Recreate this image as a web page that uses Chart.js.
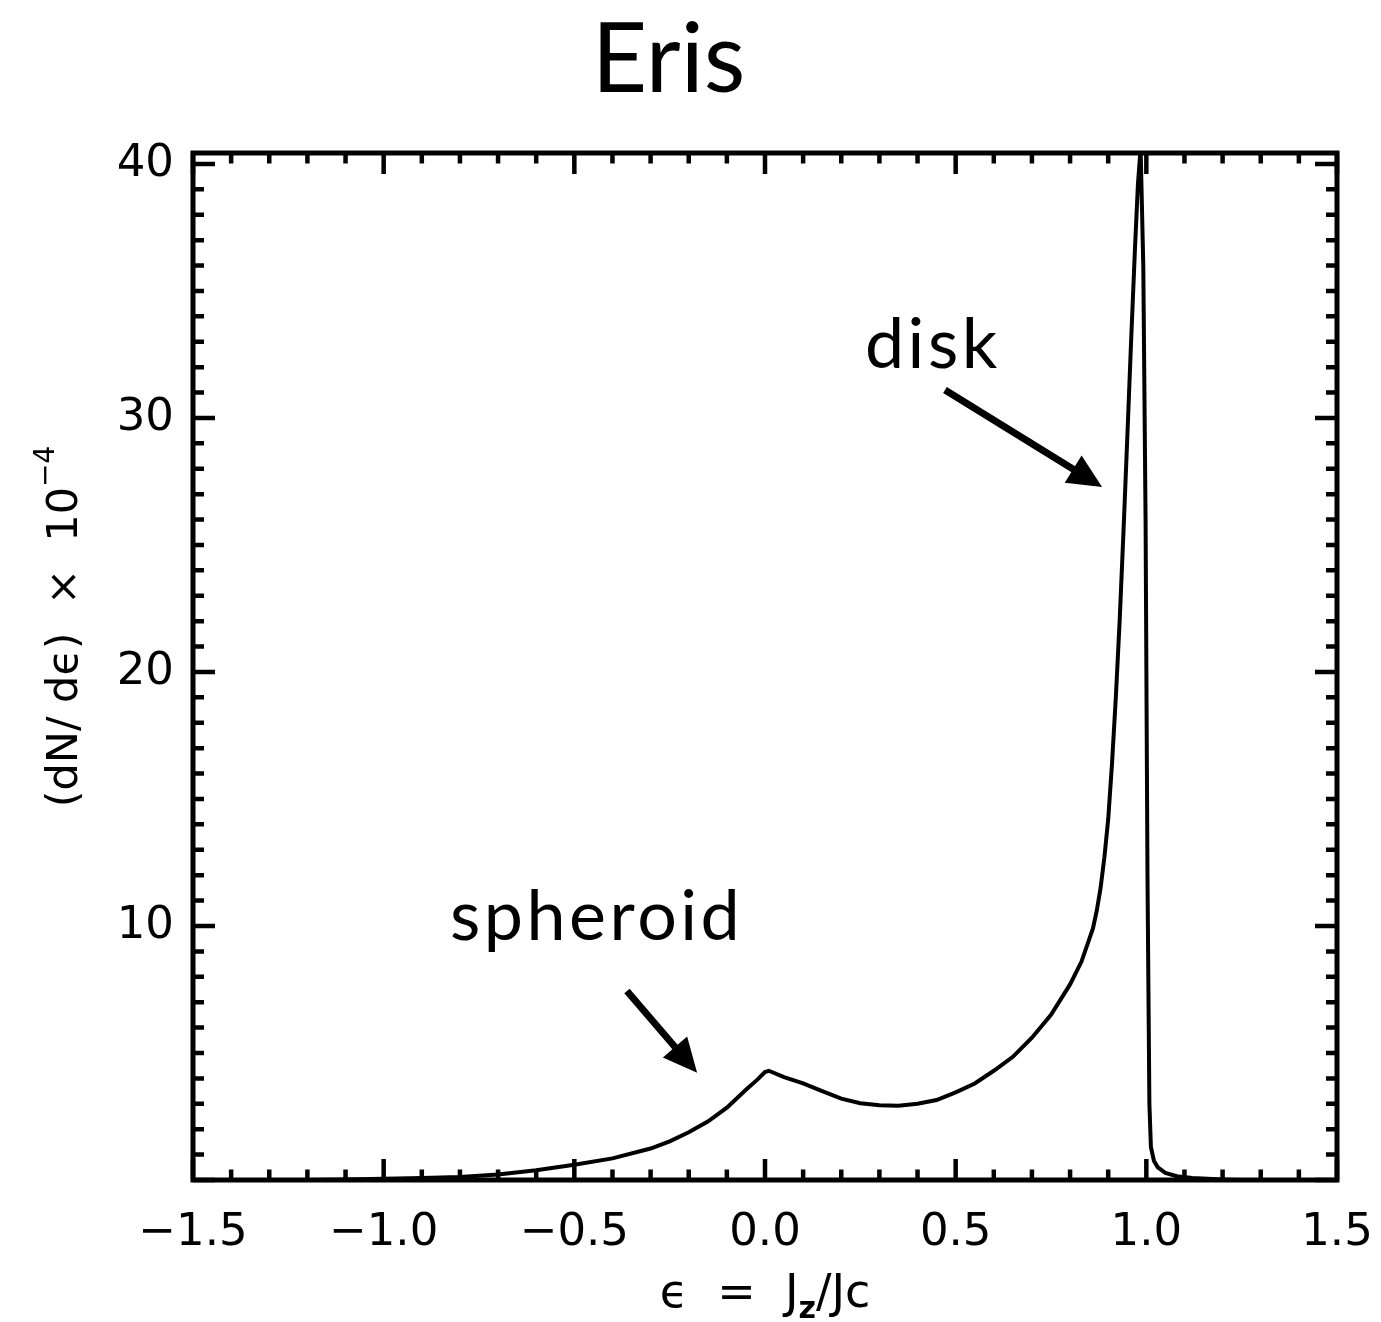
<!DOCTYPE html>
<html>
<head>
  <meta charset="UTF-8">
  <title>Eris</title>
  <script src="https://cdn.jsdelivr.net/npm/chart.js"></script>
  <style>
    html, body { margin: 0; padding: 0; background: #fff; }
    canvas { display: block; }
  </style>
</head>
<body>
  <canvas id="erisChart" width="1381" height="1322"></canvas>

  <script>
    // epsilon = Jz/Jc  vs  (dN/d eps) x 10^-4
    const epsValues = [
      -1.20, -1.10, -1.00, -0.90, -0.80, -0.70, -0.60, -0.50, -0.40, -0.30,
      -0.25, -0.20, -0.15, -0.10, -0.05, -0.02, 0.00, 0.01, 0.05, 0.10,
      0.15, 0.20, 0.25, 0.30, 0.35, 0.40, 0.45, 0.50, 0.55, 0.60,
      0.65, 0.70, 0.75, 0.80, 0.83, 0.86, 0.87, 0.88, 0.89, 0.90,
      0.91, 0.92, 0.93, 0.94, 0.95, 0.96, 0.97, 0.978, 0.985, 0.992,
      0.998, 1.003, 1.008, 1.012, 1.02, 1.03, 1.05, 1.08, 1.12, 1.20,
      1.25
    ];
    const dndeValues = [
      0.00, 0.02, 0.05, 0.08, 0.12, 0.22, 0.38, 0.60, 0.85, 1.24,
      1.52, 1.88, 2.30, 2.85, 3.55, 3.95, 4.25, 4.30, 4.05, 3.80,
      3.50, 3.20, 3.02, 2.94, 2.92, 3.00, 3.15, 3.45, 3.80, 4.30,
      4.85, 5.60, 6.50, 7.70, 8.60, 9.90, 10.6, 11.5, 12.7, 14.2,
      16.4, 19.0, 22.0, 25.5, 29.2, 33.0, 36.6, 39.2, 40.6, 36.0,
      26.0, 12.0, 3.0, 1.3, 0.75, 0.50, 0.28, 0.15, 0.08, 0.02,
      0.00
    ];
    const xTickValues = [-1.5, -1.0, -0.5, 0.0, 0.5, 1.0, 1.5];
    const yTickValues = [10, 20, 30, 40];

    const points = epsValues.map((e, i) => ({ x: e, y: dndeValues[i] }));

    const axisFont = '"DejaVu Sans", sans-serif';

    // frame + inward ticks on all four sides
    const frameTicks = {
      id: 'frameTicks',
      afterDatasetsDraw(chart) {
        const { ctx, chartArea: a, scales: { x, y } } = chart;
        ctx.save();
        ctx.strokeStyle = '#000';
        ctx.lineWidth = 4.5;
        ctx.beginPath();
        for (let i = 0; i <= 30; i++) {
          const px = x.getPixelForValue(-1.5 + i * 0.1);
          const len = i % 5 === 0 ? 21 : 10.5;
          ctx.moveTo(px, a.bottom); ctx.lineTo(px, a.bottom - len);
          ctx.moveTo(px, a.top); ctx.lineTo(px, a.top + len);
        }
        for (let v = 0; v <= 40; v++) {
          const py = y.getPixelForValue(v);
          const len = v % 10 === 0 ? 22 : 11;
          ctx.moveTo(a.left, py); ctx.lineTo(a.left + len, py);
          ctx.moveTo(a.right, py); ctx.lineTo(a.right - len, py);
        }
        ctx.stroke();
        ctx.lineWidth = 5;
        ctx.strokeRect(a.left, a.top, a.right - a.left, a.bottom - a.top);
        ctx.restore();
      }
    };

    // axis titles with sub/superscripts
    const axisTitles = {
      id: 'axisTitles',
      afterDraw(chart) {
        const { ctx, chartArea: a } = chart;
        ctx.save();
        ctx.fillStyle = '#000';
        ctx.textBaseline = 'alphabetic';
        ctx.textAlign = 'left';

        // x title: ϵ = Jz/Jc
        const xs = [
          { t: 'ϵ  =  J', f: '46px ' + axisFont, dy: 0 },
          { t: 'z', f: 'bold 30px ' + axisFont, dy: 11 },
          { t: '/Jc', f: '46px ' + axisFont, dy: 0 }
        ];
        let w = 0;
        xs.forEach(s => { ctx.font = s.f; s.w = ctx.measureText(s.t).width; w += s.w; });
        let cx = (a.left + a.right) / 2 - w / 2;
        xs.forEach(s => { ctx.font = s.f; ctx.fillText(s.t, cx, 1307 + s.dy); cx += s.w; });

        // y title: (dN/ dϵ) × 10^-4
        const ys = [
          { t: '(dN/ dϵ)  ×  10', f: '43px ' + axisFont, dy: 0 },
          { t: '−4', f: '28px ' + axisFont, dy: -23 }
        ];
        w = 0;
        ys.forEach(s => { ctx.font = s.f; s.w = ctx.measureText(s.t).width; w += s.w; });
        ctx.translate(77, (a.top + a.bottom) / 2 - 40);
        ctx.rotate(-Math.PI / 2);
        cx = -w / 2;
        ys.forEach(s => { ctx.font = s.f; ctx.fillText(s.t, cx, s.dy); cx += s.w; });
        ctx.restore();
      }
    };

    // "disk" / "spheroid" labels with arrows, placed in data units
    const notes = [
      { text: 'disk', x: 0.262, y: 31.97, from: [0.472, 31.1], to: [0.884, 27.28] },
      { text: 'spheroid', x: -0.826, y: 9.45, from: [-0.362, 7.44], to: [-0.178, 4.22] }
    ];
    const annotations = {
      id: 'annotations',
      afterDatasetsDraw(chart) {
        const { ctx, scales: { x, y } } = chart;
        ctx.save();
        ctx.fillStyle = '#000';
        ctx.strokeStyle = '#000';
        ctx.font = '70px Lato, sans-serif';
        ctx.letterSpacing = '3.5px';
        ctx.textBaseline = 'alphabetic';
        notes.forEach(n => {
          ctx.fillText(n.text, x.getPixelForValue(n.x), y.getPixelForValue(n.y));
          const x0 = x.getPixelForValue(n.from[0]), y0 = y.getPixelForValue(n.from[1]);
          const x1 = x.getPixelForValue(n.to[0]), y1 = y.getPixelForValue(n.to[1]);
          const ang = Math.atan2(y1 - y0, x1 - x0);
          const head = 34, half = 16;
          const bx = x1 - head * Math.cos(ang), by = y1 - head * Math.sin(ang);
          ctx.lineWidth = 7;
          ctx.beginPath();
          ctx.moveTo(x0, y0);
          ctx.lineTo(bx + 4 * Math.cos(ang), by + 4 * Math.sin(ang));
          ctx.stroke();
          ctx.beginPath();
          ctx.moveTo(x1, y1);
          ctx.lineTo(bx + half * Math.sin(ang), by - half * Math.cos(ang));
          ctx.lineTo(bx - half * Math.sin(ang), by + half * Math.cos(ang));
          ctx.closePath();
          ctx.fill();
        });
        ctx.restore();
      }
    };

    const tickFont = { family: axisFont, size: 45 };

    new Chart(document.getElementById('erisChart'), {
      type: 'scatter',
      data: {
        datasets: [{
          data: points,
          showLine: true,
          borderColor: '#000',
          borderWidth: 4,
          pointRadius: 0,
          tension: 0,
          fill: false
        }]
      },
      options: {
        responsive: false,
        animation: false,
        layout: { padding: { left: 0, right: 44, top: 0, bottom: 0 } },
        plugins: {
          legend: { display: false },
          tooltip: { enabled: false },
          title: {
            display: true,
            text: 'Eris',
            color: '#000',
            font: { family: 'Lato, "DejaVu Sans", sans-serif', size: 96, weight: 'normal', lineHeight: 1 },
            padding: { top: 13, bottom: 44 }
          }
        },
        scales: {
          x: {
            type: 'linear',
            min: -1.5,
            max: 1.5,
            grid: { display: false, drawTicks: false },
            border: { display: false },
            afterBuildTicks: s => { s.ticks = xTickValues.map(v => ({ value: v })); },
            afterFit: s => { s.height = 142; s.paddingLeft = 0; s.paddingRight = 0; },
            ticks: {
              color: '#000',
              font: tickFont,
              padding: 26,
              maxRotation: 0,
              autoSkip: false,
              callback: v => v.toFixed(1).replace('-', '−')
            }
          },
          y: {
            type: 'linear',
            min: 0,
            max: 40.43,
            grid: { display: false, drawTicks: false },
            border: { display: false },
            afterBuildTicks: s => { s.ticks = yTickValues.map(v => ({ value: v })); },
            afterFit: s => { s.width = 193; s.paddingTop = 0; s.paddingBottom = 0; },
            ticks: {
              color: '#000',
              font: tickFont,
              padding: 19,
              autoSkip: false,
              callback: v => String(v)
            }
          }
        }
      },
      plugins: [frameTicks, annotations, axisTitles]
    });
  </script>
</body>
</html>
